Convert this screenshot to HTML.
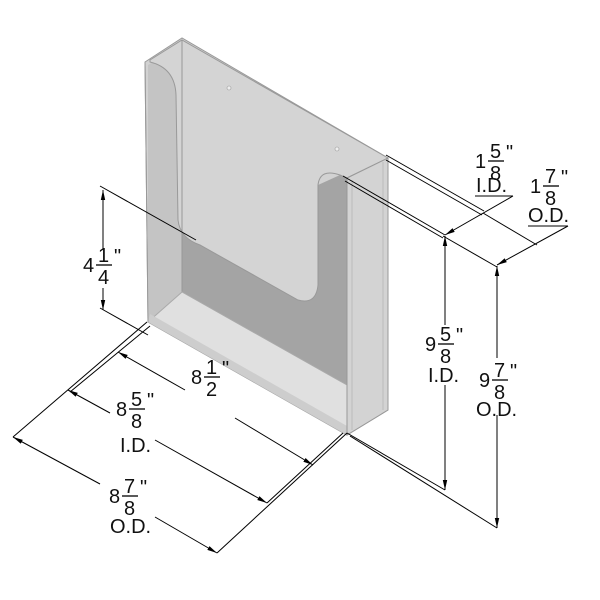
<!DOCTYPE html>
<html><head><style>body{margin:0;background:#fff}svg{display:block}text{font-family:"Liberation Sans",sans-serif;fill:#111}</style></head><body>
<svg width="600" height="600" viewBox="0 0 600 600">
<defs><marker id="a" markerWidth="10" markerHeight="6" refX="10" refY="3" orient="auto" markerUnits="userSpaceOnUse"><path d="M0,0.8 L10,3 L0,5.2Z" fill="#000"/></marker></defs>
<polygon points="145,62 182,38 388,158 388,410 347,435 148,322" fill="#d2d2d2" stroke="#999" stroke-width="1"/>
<polygon points="148,65 182,45 182,292 148,322" fill="#c4c4c4"/>
<polygon points="182,225 200,245 298,300 318,285 318,185 340,175 347,178 347,400 182,292" fill="#a4a4a4"/>
<path d="M150,60 L182,40 L388,158 L347,178 L340,175 Q320,168 318,185 L318,285 Q316,305 298,300 L200,245 Q180,238 178,220 L176,95 Q175,68 150,62Z" fill="#d4d4d4" stroke="#999" stroke-width="1"/>
<line x1="182" y1="40" x2="182" y2="292" stroke="#999"/>
<polygon points="148,322 182,292 347,385 347,435" fill="#e0e0e0" stroke="#aaa"/>
<polygon points="148,322 347,435 347,426 150,314" fill="#cdcdcd"/>
<polygon points="347,178 388,158 388,410 347,435" fill="#d3d3d3" stroke="#999"/>
<line x1="352" y1="180" x2="352" y2="430" stroke="#bbb"/>
<line x1="383" y1="162" x2="383" y2="410" stroke="#bbb"/>
<line x1="145" y1="62" x2="148" y2="322" stroke="#999"/>
<line x1="347" y1="178" x2="347" y2="435" stroke="#999"/>
<circle cx="229" cy="88" r="2" fill="#eee" stroke="#999" stroke-width=".6"/>
<circle cx="337" cy="149" r="2" fill="#eee" stroke="#999" stroke-width=".6"/>
<g stroke="#000" stroke-width="1" fill="none">
<line x1="100" y1="186" x2="196" y2="240"/>
<line x1="100" y1="308" x2="148" y2="335"/>
<line x1="103" y1="250" x2="103" y2="190" marker-end="url(#a)"/>
<line x1="103" y1="288" x2="103" y2="310" marker-end="url(#a)"/>
<line x1="147" y1="322" x2="13" y2="437"/>
<line x1="150" y1="326" x2="70" y2="392"/>
<line x1="347" y1="433" x2="217" y2="553"/>
<line x1="343" y1="433" x2="267" y2="503"/>
<line x1="185" y1="390" x2="118" y2="352" marker-end="url(#a)"/>
<line x1="235" y1="418" x2="313" y2="465" marker-end="url(#a)"/>
<line x1="110" y1="413" x2="68" y2="390" marker-end="url(#a)"/>
<line x1="155" y1="440" x2="267" y2="503" marker-end="url(#a)"/>
<line x1="100" y1="484" x2="13" y2="437" marker-end="url(#a)"/>
<line x1="155" y1="517" x2="217" y2="553" marker-end="url(#a)"/>
<line x1="347" y1="433" x2="445" y2="490"/>
<line x1="350" y1="436" x2="497" y2="528"/>
<line x1="445" y1="325" x2="445" y2="236" marker-end="url(#a)"/>
<line x1="445" y1="385" x2="445" y2="490" marker-end="url(#a)"/>
<line x1="497" y1="358" x2="497" y2="266" marker-end="url(#a)"/>
<line x1="497" y1="415" x2="497" y2="528" marker-end="url(#a)"/>
<line x1="343" y1="176" x2="445" y2="235"/>
<line x1="345" y1="181" x2="443" y2="238"/>
<line x1="443" y1="236" x2="497" y2="267"/>
<line x1="386" y1="155" x2="484" y2="211"/>
<line x1="386" y1="160" x2="482" y2="215"/>
<line x1="483" y1="213" x2="537" y2="245"/>
<line x1="513" y1="196" x2="445" y2="235" marker-end="url(#a)"/>
<line x1="475" y1="196" x2="513" y2="196"/>
<line x1="568" y1="226" x2="497" y2="265" marker-end="url(#a)"/>
<line x1="528" y1="226" x2="568" y2="226"/>
<g stroke-width="1.3">
<line x1="96" y1="265" x2="112" y2="265"/>
<line x1="204" y1="377" x2="220" y2="377"/>
<line x1="129" y1="409" x2="145" y2="409"/>
<line x1="122" y1="496" x2="138" y2="496"/>
<line x1="438" y1="344" x2="454" y2="344"/>
<line x1="492" y1="380" x2="508" y2="380"/>
<line x1="488" y1="161" x2="504" y2="161"/>
<line x1="543" y1="186" x2="559" y2="186"/>
</g>
</g>
<g font-size="20">
<text x="83" y="272">4</text><text x="98" y="262">1</text><text x="98" y="284">4</text><text x="114" y="263">"</text>
<text x="191" y="384">8</text><text x="206" y="374">1</text><text x="206" y="396">2</text><text x="222" y="375">"</text>
<text x="116" y="416">8</text><text x="131" y="406">5</text><text x="131" y="428">8</text><text x="147" y="407">"</text>
<text x="120" y="452">I.D.</text>
<text x="109" y="503">8</text><text x="124" y="493">7</text><text x="124" y="515">8</text><text x="140" y="494">"</text>
<text x="110" y="533">O.D.</text>
<text x="425" y="351">9</text><text x="440" y="341">5</text><text x="440" y="363">8</text><text x="456" y="342">"</text>
<text x="428" y="382">I.D.</text>
<text x="479" y="387">9</text><text x="494" y="377">7</text><text x="494" y="399">8</text><text x="510" y="378">"</text>
<text x="476" y="416">O.D.</text>
<text x="475" y="168">1</text><text x="490" y="158">5</text><text x="490" y="180">8</text><text x="506" y="159">"</text>
<text x="476" y="192">I.D.</text>
<text x="530" y="193">1</text><text x="545" y="183">7</text><text x="545" y="205">8</text><text x="561" y="184">"</text>
<text x="528" y="222">O.D.</text>
</g>
</svg>
</body></html>
